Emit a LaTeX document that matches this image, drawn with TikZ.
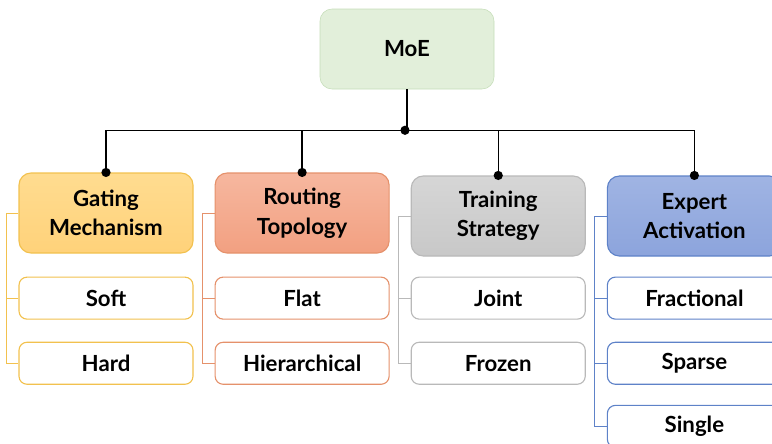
\documentclass[tikz,border=0pt]{standalone}
\usepackage{fontspec}
\setmainfont{Lato}
\usepackage{xcolor}
\definecolor{vertpale}{HTML}{E2EFDA}
\definecolor{vertbord}{HTML}{C5DDB8}
\definecolor{jaunehaut}{HTML}{FFDC90}
\definecolor{jaunebas}{HTML}{FFD27A}
\definecolor{jaunebord}{HTML}{F2C14E}
\definecolor{saumonhaut}{HTML}{F6B79F}
\definecolor{saumonbas}{HTML}{F2A081}
\definecolor{saumonbord}{HTML}{E5916B}
\definecolor{grishaut}{HTML}{D6D6D6}
\definecolor{grisbas}{HTML}{C8C8C8}
\definecolor{grisbord}{HTML}{B9B9B9}
\definecolor{bleuhaut}{HTML}{A0B4E3}
\definecolor{bleubas}{HTML}{8CA4DC}
\definecolor{bleubord}{HTML}{5E82C8}
\usetikzlibrary{positioning,calc}

\begin{document}
\begin{tikzpicture}[
  every node/.style={font=\fontsize{15.8}{21}\selectfont\bfseries,align=center},
  racine/.style={draw=vertbord,fill=vertpale,rounded corners=3mm,minimum width=43.5mm,minimum height=20mm},
  cat/.style={draw=#1bord,top color=#1haut,bottom color=#1bas,rounded corners=3mm,
    minimum width=43.5mm,minimum height=20mm,thick},
  feuille/.style={draw=#1bord,fill=white,rounded corners=2mm,minimum width=43.5mm,minimum height=10.5mm,line width=0.8pt},
  bra/.style={draw=#1bord,line width=0.7pt},
  lien/.style={black,line width=0.9pt}
]
\clip (0,0) rectangle (193mm,-110.75mm);

% racine et categories
\node[racine] (moe) at (101.75mm,-12.25mm) {MoE};
\node[cat=jaune] (gat) at (26.5mm,-53.25mm) {Gating\\Mechanism};
\node[cat=saumon,right=5.25mm of gat] (rou) {Routing\\Topology};
\node[cat=gris,right=5.25mm of rou,yshift=-0.75mm] (tra) {Training\\Strategy};
\node[cat=bleu,right=5.25mm of tra] (exp) {Expert\\Activation};

% feuilles
\node[feuille=jaune,below=5.75mm of gat] (soft) {Soft};
\node[feuille=jaune,below=5.5mm of soft] (hard) {Hard};
\node[feuille=saumon,below=5.75mm of rou] (flat) {Flat};
\node[feuille=saumon,below=5.5mm of flat] (hier) {Hierarchical};
\node[feuille=gris,below=5mm of tra] (joint) {Joint};
\node[feuille=gris,below=5.5mm of joint] (froz) {Frozen};
\node[feuille=bleu,below=5mm of exp] (frac) {Fractional};
\node[feuille=bleu,below=5.5mm of frac] (spar) {Sparse};
\node[feuille=bleu,below=5mm of spar] (sing) {Single};

% bus horizontal
\coordinate (bus) at ($(moe.south)+(-0.5mm,-10.25mm)$);
\draw[lien] (moe.south) -- ++(0,-10.25mm);
\foreach \c in {gat,rou,tra,exp}{
  \draw[lien] (\c.north) |- (bus);
  \fill (\c.north) circle (1.15mm);
}
\fill (bus) circle (1.15mm);

% branches vers les feuilles
\draw[bra=jaune] (gat.west) -- ++(-3mm,0) |- (hard.west);
\draw[bra=jaune] (soft.west) -- ++(-3mm,0);
\draw[bra=saumon] (rou.west) -- ++(-3mm,0) |- (hier.west);
\draw[bra=saumon] (flat.west) -- ++(-3mm,0);
\draw[bra=gris] (tra.west) -- ++(-3mm,0) |- (froz.west);
\draw[bra=gris] (joint.west) -- ++(-3mm,0);
\draw[bra=bleu] (exp.west) -- ++(-3mm,0) |- (sing.west);
\draw[bra=bleu] (frac.west) -- ++(-3mm,0);
\draw[bra=bleu] (spar.west) -- ++(-3mm,0);
\end{tikzpicture}
\end{document}
